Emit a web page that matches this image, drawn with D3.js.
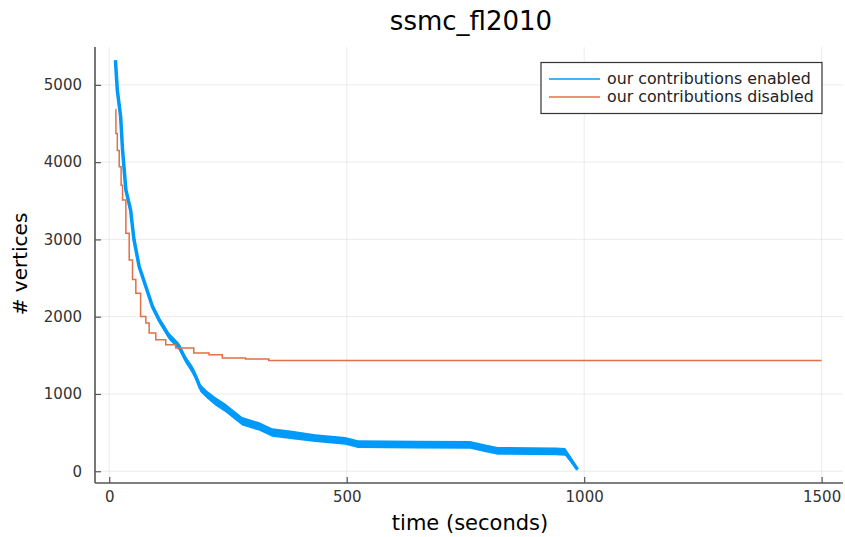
<!DOCTYPE html>
<html lang="en">
<head>
    <meta charset="UTF-8">
    <title>ssmc_fl2010</title>
    <style>
        body { margin: 0; background: #fff; }
        text { font-family: "DejaVu Sans", sans-serif; }
    </style>
</head>
<body>
    <svg width="845" height="537"></svg>
    <script src="https://d3js.org/d3.v7.min.js"></script>
<script>

// data
const enabledTime   = [13, 17, 24, 28, 35, 45, 52, 63, 77, 91, 105, 126, 147, 161, 175, 182, 192, 206, 224, 245, 262, 280, 315, 343, 385, 434, 497, 524, 650, 760, 790, 818, 940, 960, 972, 986];
const enabledValue  = [5320, 4930, 4590, 4160, 3640, 3380, 3000, 2650, 2390, 2130, 1960, 1747, 1615, 1443, 1314, 1227, 1077, 991, 904, 819, 733, 646, 581, 500, 470, 430, 392, 350, 345, 340, 300, 265, 258, 250, 150, 22];
// half spread of the noisy band around the enabled curve
const enabledSpread = [10, 15, 15, 20, 20, 25, 25, 30, 35, 40, 40, 45, 45, 45, 50, 50, 50, 50, 55, 55, 55, 55, 55, 55, 55, 50, 50, 50, 50, 50, 50, 50, 50, 50, 40, 20];

const disabledTime  = [13, 14, 17, 21, 25, 28, 35, 42, 49, 56, 66, 77, 84, 98, 119, 140, 178, 210, 238, 287, 336, 1500];
const disabledValue = [4680, 4370, 4150, 3940, 3700, 3510, 3080, 2735, 2480, 2305, 2003, 1917, 1788, 1702, 1637, 1594, 1530, 1508, 1465, 1452, 1434, 1434];

const xTicks = [0, 500, 1000, 1500];
const yTicks = [0, 1000, 2000, 3000, 4000, 5000];
const seriesNames = ["our contributions enabled", "our contributions disabled"];
const seriesColors = ["#009AFA", "#E26F46"];

const svg = d3.select("svg");
const plotLeft = 95, plotRight = 843, plotTop = 47, plotBottom = 483;

const x = d3.scaleLinear().domain([-30, 1545]).range([plotLeft, plotRight]);
const y = d3.scaleLinear().domain([-152, 5490]).range([plotBottom, plotTop]);

// grid
svg.append("g").selectAll("line")
    .data(xTicks).enter().append("line")
    .attr("x1", d => x(d)).attr("x2", d => x(d))
    .attr("y1", plotTop).attr("y2", plotBottom)
    .attr("stroke", "#000").attr("stroke-opacity", 0.08);
svg.append("g").selectAll("line")
    .data(yTicks).enter().append("line")
    .attr("x1", plotLeft).attr("x2", plotRight)
    .attr("y1", d => y(d)).attr("y2", d => y(d))
    .attr("stroke", "#000").attr("stroke-opacity", 0.08);

// axes
const xAxis = svg.append("g")
    .attr("transform", `translate(0,${plotBottom})`)
    .call(d3.axisBottom(x).tickValues(xTicks).tickFormat(d3.format("d")).tickSize(-6).tickPadding(8));
const yAxis = svg.append("g")
    .attr("transform", `translate(${plotLeft},0)`)
    .call(d3.axisLeft(y).tickValues(yTicks).tickFormat(d3.format("d")).tickSize(-6).tickPadding(13));

[xAxis, yAxis].forEach(a => {
    a.select(".domain").attr("stroke", "#555").attr("stroke-width", 1.6);
    a.selectAll(".tick line").attr("stroke", "#555").attr("stroke-width", 1.2);
    a.selectAll(".tick text").attr("fill", "#333").attr("font-size", 15)
        .attr("font-family", "DejaVu Sans");
});
xAxis.select(".domain").attr("d", `M${plotLeft},0H${plotRight}`);
yAxis.select(".domain").attr("d", `M0,${plotTop}V${plotBottom}`);

// enabled: noisy band + center line
const enabled = enabledTime.map((t, i) => ({t, v: enabledValue[i], s: enabledSpread[i]}));
svg.append("path")
    .datum(enabled)
    .attr("d", d3.area().x(d => x(d.t)).y0(d => y(d.v - d.s)).y1(d => y(d.v + d.s)))
    .attr("fill", seriesColors[0]);
svg.append("path")
    .datum(enabled)
    .attr("d", d3.line().x(d => x(d.t)).y(d => y(d.v)))
    .attr("fill", "none")
    .attr("stroke", seriesColors[0])
    .attr("stroke-width", 3.5);

// disabled
const disabled = disabledTime.map((t, i) => ({t, v: disabledValue[i]}));
svg.append("path")
    .datum(disabled)
    .attr("d", d3.line().x(d => x(d.t)).y(d => y(d.v)).curve(d3.curveStepAfter))
    .attr("fill", "none")
    .attr("stroke", seriesColors[1])
    .attr("stroke-width", 1.5);

// title and labels
svg.append("text")
    .attr("x", 471).attr("y", 30)
    .attr("text-anchor", "middle")
    .attr("font-size", 26)
    .text("ssmc_fl2010");
svg.append("text")
    .attr("x", 470).attr("y", 530)
    .attr("text-anchor", "middle")
    .attr("font-size", 21)
    .text("time (seconds)");
svg.append("text")
    .attr("transform", "translate(27,264) rotate(-90)")
    .attr("text-anchor", "middle")
    .attr("font-size", 20)
    .text("# vertices");

// legend
const legend = svg.append("g");
legend.append("rect")
    .attr("x", 541).attr("y", 62.5)
    .attr("width", 281).attr("height", 51)
    .attr("fill", "#fff")
    .attr("stroke", "#333")
    .attr("stroke-width", 1.2);
seriesNames.forEach((name, i) => {
    const ly = 79 + i * 18;
    legend.append("line")
        .attr("x1", 549).attr("x2", 600)
        .attr("y1", ly).attr("y2", ly)
        .attr("stroke", seriesColors[i])
        .attr("stroke-width", 1.5);
    legend.append("text")
        .attr("x", 607).attr("y", ly + 5)
        .attr("font-size", 15.8)
        .attr("fill", "#222")
        .text(name);
});

</script>
</body>
</html>
